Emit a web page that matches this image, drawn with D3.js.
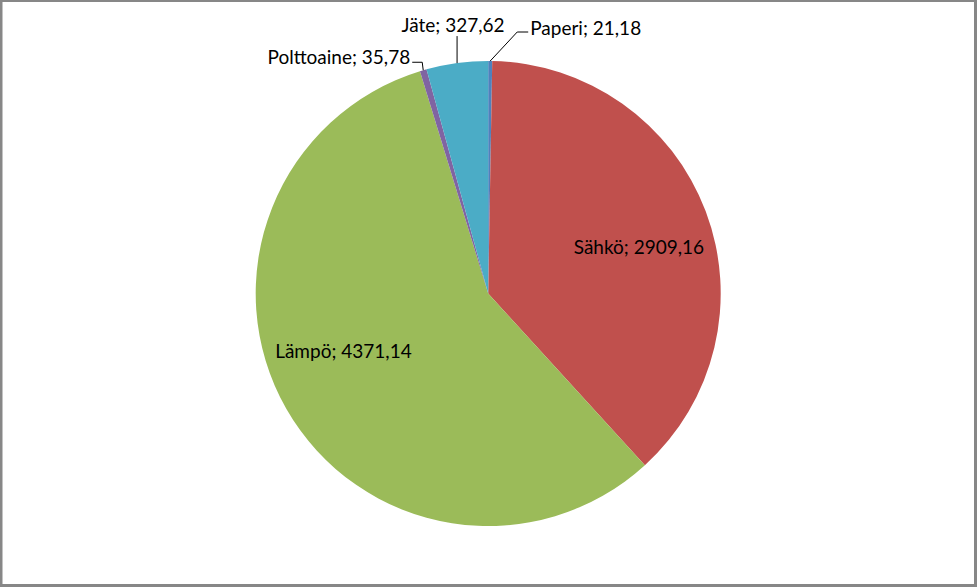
<!DOCTYPE html>
<html>
<head>
<meta charset="utf-8">
<script src="https://cdn.jsdelivr.net/npm/d3@7"></script>
<style>
  body { margin: 0; background: #fff; }
  svg text { font-family: Lato, "Open Sans", sans-serif; font-size: 19px; fill: #000; }
</style>
</head>
<body>
<div id="chart"></div>
<script>
const categories = ['Paperi', 'Sähkö', 'Lämpö', 'Polttoaine', 'Jäte'];
const values = [21.18, 2909.16, 4371.14, 35.78, 327.62];
const colors = ['#4F81BD', '#C0504D', '#9BBB59', '#8064A2', '#4BACC6'];
const outside = ['Paperi', 'Polttoaine', 'Jäte'];

const W = 977, H = 587;
const cx = 488.2, cy = 293.5, R = 232.5;

const data = categories.map(function(c, i) { return { name: c, value: values[i], color: colors[i] }; });
const fmt = function(v) { return d3.format('.2f')(v).replace('.', ','); };

const svg = d3.select('#chart').append('svg')
  .attr('width', W)
  .attr('height', H);

svg.append('rect')
  .attr('x', 1).attr('y', 0.5)
  .attr('width', W - 2.5).attr('height', H - 2)
  .attr('fill', '#fff')
  .attr('stroke', '#878787')
  .attr('stroke-width', 3);

const pie = d3.pie().sort(null).value(function(d) { return d.value; });
const arc = d3.arc().innerRadius(0).outerRadius(R);
const arcs = pie(data);

const g = svg.append('g').attr('transform', 'translate(' + cx + ',' + cy + ')');

g.selectAll('path.slice')
  .data(arcs)
  .enter().append('path')
  .attr('class', 'slice')
  .attr('d', arc)
  .attr('fill', function(d) { return d.data.color; });

// inside labels (Excel "best fit" puts them a bit off the centroid)
const labelArc = d3.arc().innerRadius(R * 0.67).outerRadius(R * 0.67);
const nudge = { 'Sähkö': [5, 9], 'Lämpö': [-9.5, -19] };
g.selectAll('text.inside')
  .data(arcs.filter(function(d) { return outside.indexOf(d.data.name) < 0; }))
  .enter().append('text')
  .attr('class', 'inside')
  .attr('text-anchor', 'middle')
  .attr('dy', '0.35em')
  .attr('transform', function(d) {
    const c = labelArc.centroid(d);
    const n = nudge[d.data.name] || [0, 0];
    return 'translate(' + (c[0] + n[0]) + ',' + (c[1] + n[1]) + ')';
  })
  .text(function(d) { return d.data.name + '; ' + fmt(d.data.value); });

// outside labels with leader lines
function edgePoint(d) {
  const a = (d.startAngle + d.endAngle) / 2;
  return [R * Math.sin(a), -R * Math.cos(a)];
}

arcs.filter(function(d) { return outside.indexOf(d.data.name) >= 0; }).forEach(function(d) {
  const p = edgePoint(d);
  let pts, tx, ty, anchor;
  if (d.data.name === 'Paperi') {
    pts = [p, [p[0] + 27, p[1] - 29], [p[0] + 38, p[1] - 29]];
    tx = p[0] + 40; ty = p[1] - 33; anchor = 'start';
  } else if (d.data.name === 'Polttoaine') {
    pts = [p, [p[0] - 1, p[1] - 8], [p[0] - 11, p[1] - 8]];
    tx = p[0] - 13; ty = p[1] - 13; anchor = 'end';
  } else {
    pts = [p, [p[0], p[1] - 27]];
    tx = p[0] - 4; ty = p[1] - 38; anchor = 'middle';
  }
  g.append('path')
    .attr('d', d3.line()(pts))
    .attr('fill', 'none')
    .attr('stroke', '#000')
    .attr('stroke-width', 1);
  g.append('text')
    .attr('x', tx).attr('y', ty)
    .attr('dy', '0.35em')
    .attr('text-anchor', anchor)
    .text(d.data.name + '; ' + fmt(d.data.value));
});
</script>
</body>
</html>
